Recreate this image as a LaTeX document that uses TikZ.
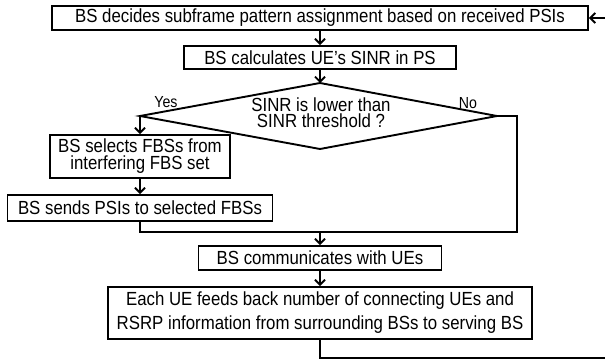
\documentclass[tikz,border=0pt]{standalone}
\usepackage{fontspec}
\setmainfont[FakeStretch=0.885]{Liberation Sans}
\usetikzlibrary{arrows.meta}
\begin{document}
\begin{tikzpicture}[x=1pt,y=-1pt,line width=1.9pt,
  box/.style={draw, rectangle, inner sep=0pt, align=center, font=\fontsize{19}{19}\selectfont},
  lbl/.style={font=\fontsize{16}{16}\selectfont, inner sep=0pt},
  arr/.style={-{Straight Barb[length=5pt,width=10pt]}}]
\useasboundingbox (0,0) rectangle (605,361);
% boxes
\node[box, minimum width=536pt, minimum height=24pt] (b1) at (320,18) {BS decides subframe pattern assignment based on received PSIs};
\node[box, minimum width=272pt, minimum height=23pt] (b2) at (320,57.5) {BS calculates UE’s SINR in PS};
% diamond
\coordinate (dt) at (320,83);
\coordinate (dr) at (497,116);
\coordinate (db) at (320,149);
\coordinate (dl) at (140,116);
\draw (dt) -- (dr) -- (db) -- (dl) -- cycle;
\node[inner sep=0pt, align=center, font=\fontsize{19}{16}\selectfont] (dtext) at (321,113) {SINR is lower than\\SINR threshold ?};
\node[lbl] (yes) at (166,102) {Yes};
\node[lbl] (no) at (468,103) {No};
\node[box, minimum width=180pt, minimum height=43pt, font=\fontsize{19}{17}\selectfont] (b3) at (140,156.5) {BS selects FBSs from\\interfering FBS set};
\node[box, minimum width=265pt, minimum height=26pt] (b4) at (140,208) {BS sends PSIs to selected FBSs};
\node[box, minimum width=243pt, minimum height=24pt] (b5) at (320,258) {BS communicates with UEs};
\node[box, minimum width=424pt, minimum height=52pt, font=\fontsize{19}{24}\selectfont] (b6) at (320,313) {Each UE feeds back number of connecting UEs and\\RSRP information from surrounding BSs to serving BS};
% connectors
\coordinate (j) at (320,232);
\coordinate (nocorner) at (517,116);
\coordinate (lb) at (320,358);
\coordinate (rb) at (608,358);
\coordinate (rt) at (608,18);
\draw[arr] (b1) -- (b2);
\draw[arr] (b2) -- (dt);
\draw[arr] (dl) -- (dl |- b3.north);
\draw[arr] (b3) -- (b4);
\draw (b4.south) |- (j);
\draw (dr) -- (nocorner) |- (j);
\draw[arr] (j) -- (b5);
\draw[arr] (b5) -- (b6);
\draw[arr] (b6.south) -- (lb) -- (rb) -- (rt) -- (b1.east);
\end{tikzpicture}
\end{document}
